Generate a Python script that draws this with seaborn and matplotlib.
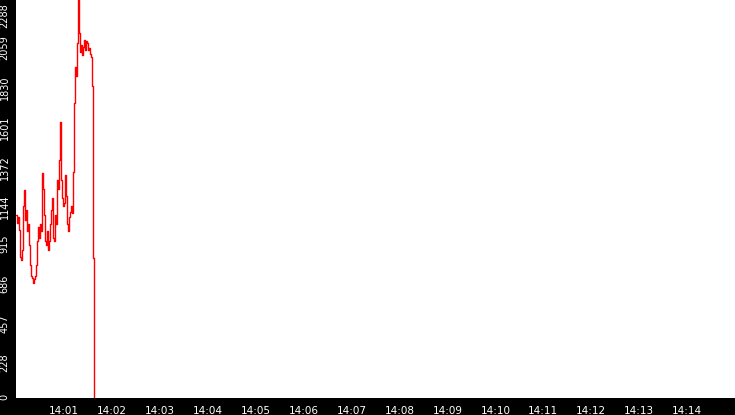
# Red trace over a 15 minute window, black frame around a white plot

import pandas as pd
import matplotlib
matplotlib.use('Agg')
import matplotlib.pyplot as plt
import matplotlib.dates as mdates
import matplotlib.transforms as mtransforms
import seaborn as sns
import numpy as np

# Values (one sample every 1.25 s from 14:00:00)
start_time = '2024-01-01 14:00:00'
sample_step = '1250ms'
values = [
    1050, 1005, 1040, 964, 810, 791, 850, 1100, 1194, 1020,
    1080, 960, 1000, 880, 760, 700, 690, 659, 680, 700,
    760, 900, 980, 920, 1000, 960, 1292, 1200, 1050, 900,
    880, 960, 850, 900, 1000, 1080, 1150, 920, 900, 1050,
    1000, 1250, 1200, 1367, 1586, 1250, 1150, 1100, 1120, 1280,
    1160, 1000, 960, 1040, 1070, 1100, 1060, 1300, 1695, 1900,
    1850, 2040, 2288, 2100, 1990, 2030, 1970, 2020, 2060, 2000,
    2050, 2040, 2000, 2010, 1980, 1960, 1793, 803, 0,
]
y_max = 2288
x_start = '2024-01-01 14:00:00'
x_end = '2024-01-01 14:15:00'
tick_minutes = list(range(1, 15))

data = pd.DataFrame({
    'time': pd.date_range(start_time, periods=len(values), freq=sample_step),
    'value': values,
})

sns.set_style('white')
plt.rcParams['font.family'] = ['DejaVu Sans']

fig = plt.figure(figsize=(7.35, 4.15), dpi=100, facecolor='black')
ax = fig.add_axes([16 / 735, 17.5 / 415, 1 - 16 / 735, 1 - 17.5 / 415])
ax.set_facecolor('white')

sns.lineplot(data=data, x='time', y='value', ax=ax, color='#ff0000',
             linewidth=1, drawstyle='steps-post')

ax.set_xlim(pd.Timestamp(x_start), pd.Timestamp(x_end))
ax.set_ylim(0, y_max)

# x ticks every minute
xticks = [pd.Timestamp(x_start) + pd.Timedelta(minutes=m) for m in tick_minutes]
ax.set_xticks(xticks)
ax.xaxis.set_major_formatter(mdates.DateFormatter('%H:%M'))

# y ticks at tenths of the max, labels truncated and hung just below the tick
yticks = np.linspace(0, y_max, 11)
ax.set_yticks(yticks)
ax.set_yticklabels([str(int(v)) for v in yticks], rotation=90, va='top')

ax.tick_params(axis='both', colors='white', labelsize=7.5, length=4,
               width=1, direction='out')
ax.tick_params(axis='x', pad=2)
ax.tick_params(axis='y', labelsize=7, pad=0.5)
labels = ax.get_yticklabels()
for i, lab in enumerate(labels):
    dy = 4 if i < len(labels) - 1 else -3  # top one stays inside the figure
    lab.set_transform(lab.get_transform()
                      + mtransforms.ScaledTranslation(0, dy / 100, fig.dpi_scale_trans))

for spine in ax.spines.values():
    spine.set_visible(False)

ax.set_xlabel('')
ax.set_ylabel('')
if ax.get_legend():
    ax.get_legend().remove()

fig.savefig('out.png', dpi=100, facecolor='black')
